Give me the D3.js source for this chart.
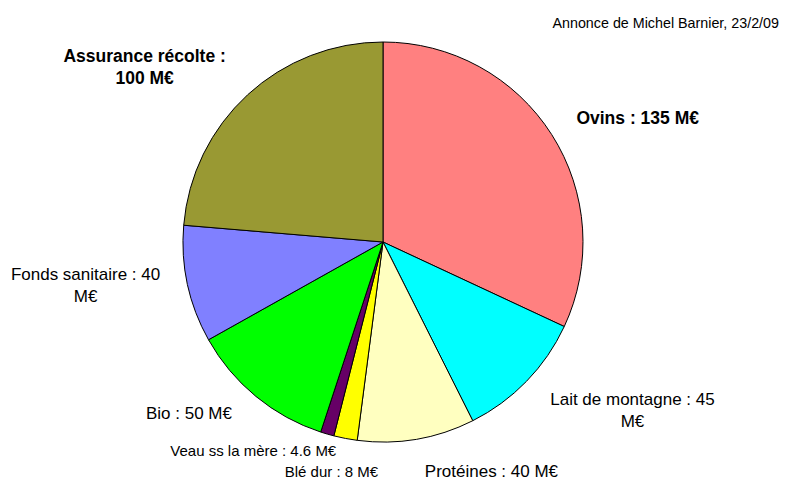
<!DOCTYPE html>
<html>
<head>
<meta charset="utf-8">
<script src="https://cdn.jsdelivr.net/npm/d3@7"></script>
<style>
  body { margin: 0; background: #fff; }
  text { font-family: "Liberation Sans", Arial, sans-serif; fill: #000; }
</style>
</head>
<body>
<div id="pie"></div>
<script>
// data
var categories = ["Ovins", "Lait de montagne", "Protéines", "Blé dur", "Veau ss la mère", "Bio", "Fonds sanitaire", "Assurance récolte"];
var values = [135, 45, 40, 8, 4.6, 50, 40, 100];
var labels = [
  ["Ovins : 135 M€"],
  ["Lait de montagne : 45", "M€"],
  ["Protéines : 40 M€"],
  ["Blé dur : 8 M€"],
  ["Veau ss la mère : 4.6 M€"],
  ["Bio : 50 M€"],
  ["Fonds sanitaire : 40", "M€"],
  ["Assurance récolte :", "100 M€"]
];
var colors = ["#ff8080", "#00ffff", "#ffffc0", "#ffff00", "#660066", "#00ff00", "#8080ff", "#999933"];

// label layout: offset from the slice's mid point on the rim
var labelDx = [86, 106, 75, -14, -74, -67, -102, -103];
var labelDy = [-11, 24, 38, 39, 22, 23, -4, -33];
var labelSize = [17.5, 17, 17, 15, 15, 17, 17, 17.5];
var labelBold = [true, false, false, false, false, false, false, true];

var width = 787, height = 480;
var cx = 383, cy = 242, r = 200;

var svg = d3.select("#pie")
  .append("svg")
    .attr("width", width)
    .attr("height", height);

svg.append("text")
  .attr("x", 779)
  .attr("y", 28)
  .attr("text-anchor", "end")
  .style("font-size", "14.3px")
  .text("Annonce de Michel Barnier, 23/2/09");

var pie = d3.pie().sort(null).value(function(d) { return d; });
var arcs = pie(values);
var arc = d3.arc().innerRadius(0).outerRadius(r);

var g = svg.append("g")
  .attr("transform", "translate(" + cx + "," + cy + ")");

g.selectAll("path")
  .data(arcs)
  .enter()
  .append("path")
    .attr("d", arc)
    .attr("fill", function(d, i) { return colors[i]; })
    .attr("stroke", "#000")
    .attr("stroke-width", 1)
    .attr("stroke-linejoin", "round");

// labels
arcs.forEach(function(d, i) {
  var a = (d.startAngle + d.endAngle) / 2;
  var px = Math.sin(a) * r + labelDx[i];
  var py = -Math.cos(a) * r + labelDy[i];
  var t = g.append("text")
    .attr("x", px)
    .attr("y", py)
    .attr("text-anchor", "middle")
    .style("font-size", labelSize[i] + "px")
    .style("font-weight", labelBold[i] ? "bold" : "normal");
  labels[i].forEach(function(line, j) {
    t.append("tspan")
      .attr("x", px)
      .attr("dy", j === 0 ? 0 : 22)
      .text(line);
  });
});
</script>
</body>
</html>
